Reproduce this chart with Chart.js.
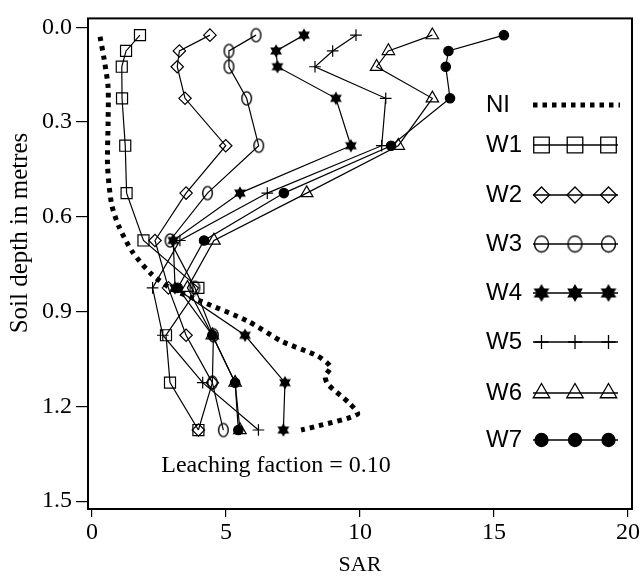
<!DOCTYPE html>
<html>
<head>
<meta charset="utf-8">
<script src="https://cdn.jsdelivr.net/npm/chart.js@4.4.1/dist/chart.umd.min.js"></script>
<style>
  html, body { margin: 0; padding: 0; background: #fff; }
  #wrap { width: 642px; height: 580px; }
</style>
</head>
<body>
<div id="wrap"><canvas id="chart"></canvas></div>
<script>
// depth of each sample (m) and SAR read for each treatment
var depths = [0.025, 0.075, 0.125, 0.225, 0.375, 0.525, 0.675, 0.825, 0.975, 1.125, 1.275];
var w1 = [1.79, 1.27, 1.11, 1.12, 1.24, 1.29, 1.92, 3.97, 2.76, 2.91, 3.97];
var w2 = [4.40, 3.26, 3.18, 3.47, 4.99, 3.51, 2.35, 2.85, 3.51, 4.49, 3.97];
var w3 = [6.12, 5.11, 5.11, 5.77, 6.22, 4.31, 2.91, 3.84, 4.53, 4.49, 4.90];
var w4 = [7.91, 6.87, 6.92, 9.10, 9.66, 5.52, 3.03, 3.10, 5.71, 7.20, 7.14];
var w5 = [9.85, 8.98, 8.32, 10.96, 10.81, 6.54, 3.28, 2.26, 2.64, 4.13, 6.21];
var w6 = [12.70, 11.06, 10.62, 12.70, 11.43, 8.01, 4.55, 3.56, 4.49, 5.34, 5.52];
var w7 = [15.37, 13.30, 13.20, 13.36, 11.16, 7.16, 4.18, 3.20, 4.49, 5.34, 5.46];

// NI curve
var niSar = [0.30, 0.45, 0.60, 0.60, 0.58, 0.73, 1.00, 1.50, 2.20, 3.00, 4.00, 5.80, 7.10, 8.40, 8.90, 8.70, 8.80, 9.60, 9.90, 8.30, 7.80];
var niDepth = [0.03, 0.10, 0.19, 0.30, 0.44, 0.56, 0.63, 0.71, 0.78, 0.83, 0.865, 0.93, 0.995, 1.04, 1.075, 1.105, 1.13, 1.19, 1.225, 1.265, 1.275];

var xTicks = [0, 5, 10, 15, 20];
var yTicks = [0.0, 0.3, 0.6, 0.9, 1.2, 1.5];
var legendNames = ["NI", "W1", "W2", "W3", "W4", "W5", "W6", "W7"];

var serif = "'Liberation Serif', 'Times New Roman', serif";
var sans = "'Liberation Sans', Arial, sans-serif";

// six pointed filled star
function makeStar(r) {
  var n = Math.ceil(r * 2 + 2);
  var c = document.createElement("canvas");
  c.width = n; c.height = n;
  var g = c.getContext("2d");
  g.fillStyle = "#000";
  [0, Math.PI].forEach(function (off) {
    g.beginPath();
    for (var i = 0; i < 3; i++) {
      var a = off - Math.PI / 2 + i * 2 * Math.PI / 3;
      var px = n / 2 + r * Math.cos(a), py = n / 2 + r * Math.sin(a);
      if (i == 0) g.moveTo(px, py); else g.lineTo(px, py);
    }
    g.closePath();
    g.fill();
  });
  return c;
}
// tall hollow ellipse
function makeEllipse(rx, ry) {
  var c = document.createElement("canvas");
  c.width = Math.ceil(rx * 2 + 3); c.height = Math.ceil(ry * 2 + 3);
  var g = c.getContext("2d");
  g.strokeStyle = "#000";
  g.lineWidth = 1.4;
  g.beginPath();
  g.ellipse(c.width / 2, c.height / 2, rx, ry, 0, 0, Math.PI * 2);
  g.stroke();
  return c;
}
var starImg = makeStar(6.8);
var ellImg = makeEllipse(4.8, 6.6);
var starBig = makeStar(9);
var ellBig = makeEllipse(7, 8);

function pts(xs, ys) {
  return xs.map(function (v, i) { return { x: v, y: ys[i] }; });
}

function series(label, xs, style, radius, fill) {
  return {
    label: label,
    data: pts(xs, depths),
    showLine: true,
    borderColor: "#000",
    borderWidth: 1.2,
    tension: 0,
    pointStyle: style,
    pointRadius: radius,
    pointHoverRadius: radius,
    pointBorderColor: "#000",
    pointBorderWidth: 1.2,
    pointBackgroundColor: fill ? "#000" : "rgba(0,0,0,0)"
  };
}

var datasets = [
  {
    label: "NI",
    data: pts(niSar, niDepth),
    showLine: true,
    borderColor: "#000",
    borderWidth: 5,
    borderDash: [4.5, 5],
    borderCapStyle: "butt",
    tension: 0.25,
    pointRadius: 0
  },
  series("W1", w1, "rect", 7.8, false),
  series("W2", w2, "rectRot", 6.2, false),
  series("W3", w3, ellImg, 6, false),
  series("W4", w4, starImg, 6, true),
  series("W5", w5, "cross", 5.8, false),
  series("W6", w6, "triangle", 7.2, false),
  series("W7", w7, "circle", 4.7, true)
];

var legendRows = [105, 145, 195, 244, 293, 342, 393, 440];
var legendStyles = [null, "rect", "rectRot", ellBig, starBig, "cross", "triangle", "circle"];
var legendRadius = [0, 11, 8, 8, 8, 7, 9.5, 6.5];

var framePlugin = {
  id: "frame",
  afterDraw: function (chart) {
    var ctx = chart.ctx, a = chart.chartArea;
    ctx.save();
    ctx.strokeStyle = "#000";
    ctx.lineWidth = 2;
    ctx.strokeRect(a.left, a.top, a.right - a.left, a.bottom - a.top);

    // y title
    ctx.fillStyle = "#000";
    ctx.font = "25px " + serif;
    ctx.textAlign = "center";
    ctx.textBaseline = "middle";
    ctx.save();
    ctx.translate(20, 233);
    ctx.rotate(-Math.PI / 2);
    ctx.fillText("Soil depth in metres", 0, 0);
    ctx.restore();

    // note
    ctx.font = "24px " + serif;
    ctx.fillText("Leaching faction = 0.10", 276, 466);

    // legend
    ctx.font = "24px " + sans;
    ctx.textAlign = "left";
    datasets.forEach(function (ds, i) {
      var y = legendRows[i];
      ctx.fillStyle = "#000";
      ctx.fillText(legendNames[i], 486, y);
      ctx.strokeStyle = "#000";
      ctx.beginPath();
      if (i == 0) {
        ctx.lineWidth = 5;
        ctx.setLineDash([4.5, 5]);
        ctx.moveTo(533, y); ctx.lineTo(620, y);
        ctx.stroke();
        ctx.setLineDash([]);
        return;
      }
      ctx.lineWidth = 1.3;
      ctx.moveTo(533, y); ctx.lineTo(618, y);
      ctx.stroke();
      [541.5, 575, 608.5].forEach(function (px) {
        ctx.fillStyle = ds.pointBackgroundColor;
        ctx.strokeStyle = "#000";
        ctx.lineWidth = 1.3;
        Chart.helpers.drawPoint(ctx, {
          pointStyle: legendStyles[i],
          radius: legendRadius[i],
          borderWidth: 1.3,
          rotation: 0
        }, px, y);
      });
    });
    ctx.restore();
  }
};

var chart = new Chart(document.getElementById("chart"), {
  type: "scatter",
  data: { datasets: datasets },
  options: {
    responsive: true,
    maintainAspectRatio: false,
    animation: false,
    layout: { padding: { top: 12, right: 10, left: 0, bottom: 0 } },
    plugins: {
      legend: { display: false },
      tooltip: { enabled: false }
    },
    scales: {
      x: {
        type: "linear",
        min: -0.15,
        max: 20.15,
        afterBuildTicks: function (s) { s.ticks = xTicks.map(function (v) { return { value: v }; }); },
        afterFit: function (s) { s.height = 71; },
        border: { display: false },
        grid: { drawOnChartArea: false, tickLength: 8, color: "#000", lineWidth: 1.2 },
        ticks: { color: "#000", padding: 1, maxRotation: 0, font: { family: serif, size: 24 } },
        title: { display: true, text: "SAR", color: "#000", padding: { top: 0, bottom: 2 }, font: { family: serif, size: 22 } }
      },
      y: {
        type: "linear",
        reverse: true,
        min: -0.028,
        max: 1.525,
        afterBuildTicks: function (s) { s.ticks = yTicks.map(function (v) { return { value: v }; }); },
        afterFit: function (s) { s.width = 88; },
        border: { display: false },
        grid: { drawOnChartArea: false, tickLength: 12, color: "#000", lineWidth: 1.2 },
        ticks: {
          color: "#000", padding: 4, font: { family: serif, size: 24 },
          callback: function (v) { return v.toFixed(1); }
        }
      }
    }
  },
  plugins: [framePlugin]
});
</script>
</body>
</html>
